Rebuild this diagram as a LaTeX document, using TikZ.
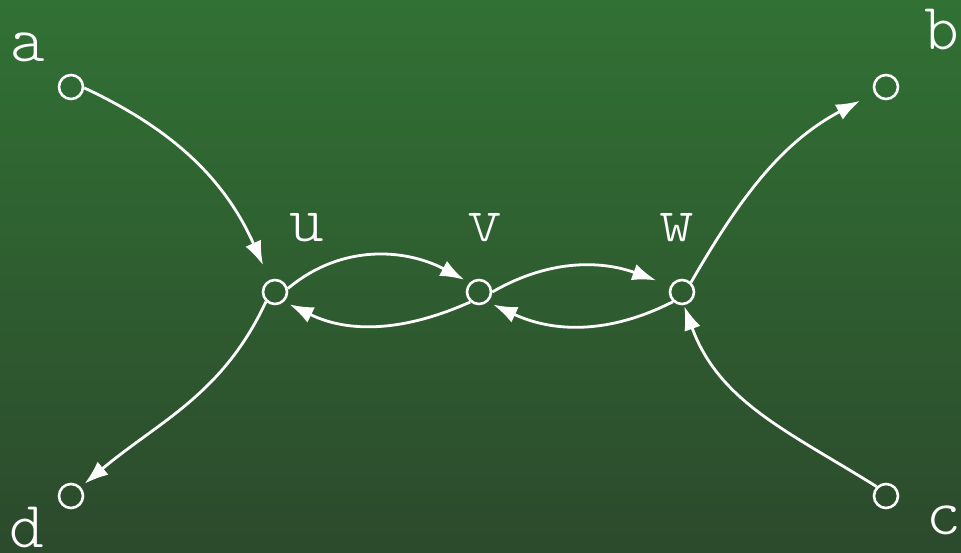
\documentclass[tikz,border=0pt]{standalone}
\usetikzlibrary{arrows.meta}
\definecolor{bgtop}{RGB}{49,113,52}
\definecolor{bgbot}{RGB}{44,74,44}
\begin{document}
\begin{tikzpicture}[x=1pt,y=1pt,
  vert/.style={circle,draw=white,line width=2.6pt,minimum size=24pt,inner sep=0pt},
  lbl/.style={text=white,anchor=base,inner sep=0pt,
    font=\fontsize{66}{66}\ttfamily\fontseries{l}\selectfont},
  arc/.style={draw=white,line width=2.8pt,-{Latex[length=24pt,width=17pt]}}]
  % background
  \shade[top color=bgtop,bottom color=bgbot] (0,0) rectangle (961,553);
  \useasboundingbox (0,0) rectangle (961,553);
  % vertices
  \node[vert] (a) at (71,466) {};
  \node[vert] (b) at (886,466) {};
  \node[vert] (u) at (275,261) {};
  \node[vert] (v) at (479,261) {};
  \node[vert] (w) at (682,261) {};
  \node[vert] (d) at (71,57) {};
  \node[vert] (c) at (886,57) {};
  % labels
  \node[lbl] (la) at (27.5,491) {a};
  \node[lbl] (lb) at (942,503) {b};
  \node[lbl] (lu) at (307,311) {u};
  \node[lbl] (lv) at (485,311) {v};
  \node[lbl] (lw) at (677,311) {w};
  \node[lbl] (ld) at (27,5) {d};
  \node[lbl] (lc) at (944,18) {c};
  % edges
  \draw[arc,shorten >=16pt] (a.-4) to[out=-25,in=114] (u.114);
  \draw[arc,shorten >=6pt] (u.15) to[out=40,in=152] (v.135);
  \draw[arc,shorten >=6pt] (v.229) to[out=204,in=-26] (u.-47);
  \draw[arc,shorten >=15pt] (v.0) to[out=30,in=160] (w.151);
  \draw[arc,shorten >=6pt] (w.227) to[out=207,in=-25] (v.-49);
  \draw[arc,shorten >=16pt] (w.47) to[out=60,in=208] (b.208);
  \draw[arc,shorten >=1pt] (c.135) to[out=148,in=-70] (w.-82);
  \draw[arc,shorten >=5pt] (u.227) to[out=245,in=40] (d.43);
\end{tikzpicture}
\end{document}
